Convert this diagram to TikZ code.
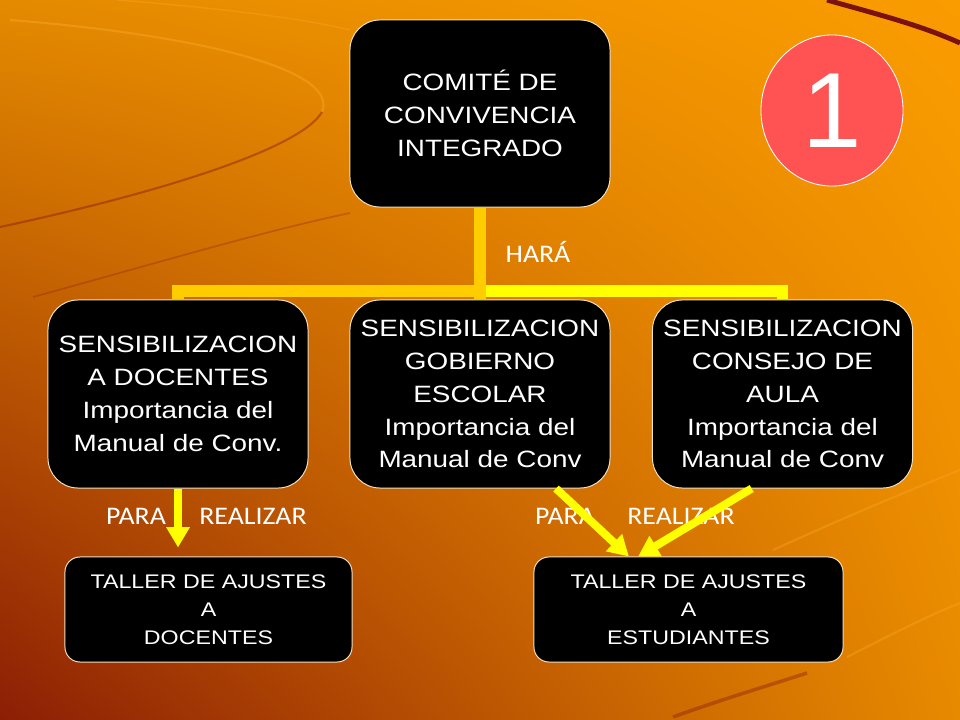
\documentclass[tikz,border=0pt]{standalone}
\usepackage{fontspec}
\setmainfont{Liberation Sans}
\newfontfamily\boxfont{Liberation Sans}[FakeStretch=1.18]
\newfontfamily\labelfont{Carlito}[FakeStretch=1.1]
\usetikzlibrary{shapes, shadings, arrows.meta, positioning}
\definecolor{bgUL}{HTML}{E48A00}
\definecolor{bgUR}{HTML}{FA9C00}
\definecolor{bgLL}{HTML}{8C1E05}
\definecolor{bgLR}{HTML}{E88A00}
\definecolor{swirlLight}{HTML}{F8A526}
\definecolor{swirlDark}{HTML}{8A1A08}
\definecolor{stripe}{HTML}{7A1212}
\definecolor{boxline}{HTML}{F4E2C4}
\definecolor{barGold}{HTML}{FFCC00}
\definecolor{barYellow}{HTML}{FFFF00}
\definecolor{circleRed}{HTML}{FF5252}

\begin{document}
\begin{tikzpicture}[x=0.025cm,y=-0.025cm,
	box/.style={draw=boxline, fill=black, text=white, rounded corners=0.75cm, line width=0.7pt, minimum width=6.5cm, minimum height=4.7cm, align=center, inner sep=0pt, font=\boxfont\fontsize{16.8}{23.4}\selectfont},
	taller/.style={box, rounded corners=0.375cm, minimum height=2.625cm, font=\boxfont\fontsize{14}{19.8}\selectfont},
	tag/.style={text=white, inner sep=0pt, font=\labelfont\fontsize{18}{20}\selectfont},
	bar/.style={line width=8.5pt, barGold},
	flecha/.style={-{Triangle[width=16pt,length=14.5pt]}, line width=5.7pt, barYellow}]
	% fondo
	\shade[upper left=bgUL, upper right=bgUR, lower left=bgLL, lower right=bgLR] (0,0) rectangle (960,720);
	\useasboundingbox (0,0) rectangle (960,720);
	\draw[swirlLight, line width=1.5pt, opacity=0.5] (10,20) .. controls (200,35) and (340,70) .. (322,112);
	\draw[swirlLight, line width=1pt, opacity=0.4] (117,0) .. controls (220,8) and (300,18) .. (350,30);
	\draw[swirlDark, line width=1.5pt, opacity=0.45] (322,112) .. controls (300,150) and (150,195) .. (0,227);
	\draw[swirlDark, line width=1.2pt, opacity=0.3] (33,297) .. controls (150,265) and (260,232) .. (350,213);
	\draw[stripe, line width=3.5pt] (827,0) .. controls (880,15) and (920,25) .. (960,43);
	\draw[swirlLight, line width=1.5pt, opacity=0.4] (773,550) .. controls (850,515) and (910,490) .. (960,470);
	\draw[swirlLight, line width=1.5pt, opacity=0.4] (847,657) .. controls (900,630) and (930,615) .. (960,603);
	\draw[swirlDark, line width=2.5pt, opacity=0.4] (673,717) .. controls (720,700) and (770,685) .. (807,673);

	\node[box, minimum height=4.675cm] (comite) at (480,113.5) {COMITÉ DE\\CONVIVENCIA\\INTEGRADO};
	\node[ellipse, draw=white, line width=0.6pt, fill=circleRed, minimum width=3.55cm, minimum height=3.775cm, inner sep=0pt, text=white, font=\fontsize{76}{76}\selectfont] (uno) at (832,110.5) {1};

	\node[box] (docentes) at (178,394) {SENSIBILIZACION\\A DOCENTES\\Importancia del\\Manual de Conv.};
	\node[box] (gobierno) at (480,394) {SENSIBILIZACION\\GOBIERNO\\ESCOLAR\\Importancia del\\Manual de Conv};
	\node[box] (consejo) at (782.5,394) {SENSIBILIZACION\\CONSEJO DE\\AULA\\Importancia del\\Manual de Conv};

	\node[taller, minimum width=7.175cm] (tallerD) at (208.5,609.5) {TALLER DE AJUSTES\\A\\DOCENTES};
	\node[taller, minimum width=7.725cm] (tallerE) at (688.5,609.5) {TALLER DE AJUSTES\\A\\ESTUDIANTES};

	\node[tag] (hara) at (538,252) {HARÁ};
	\node[tag] (paraD) at (136,516) {PARA};
	\node[tag] (realizarD) at (253,516) {REALIZAR};
	\node[tag] (paraE) at (565,516) {PARA};
	\node[tag] (realizarE) at (681,516) {REALIZAR};

	\coordinate (rama) at (480,291);
	\draw[bar, barYellow] (rama) -| (consejo.north);
	\draw[bar] (rama) -| (docentes.north);
	\draw[bar] (comite.south) -- (gobierno.north);

	\draw[flecha, shorten >=0.225cm] (docentes.south) -- (docentes.south |- tallerD.north);
	\draw[flecha] ([xshift=1.9cm]gobierno.south) -- ([xshift=-1.49cm]tallerE.north);
	\draw[flecha] ([xshift=-0.77cm]consejo.south) -- ([xshift=-1.26cm]tallerE.north);
\end{tikzpicture}
\end{document}
